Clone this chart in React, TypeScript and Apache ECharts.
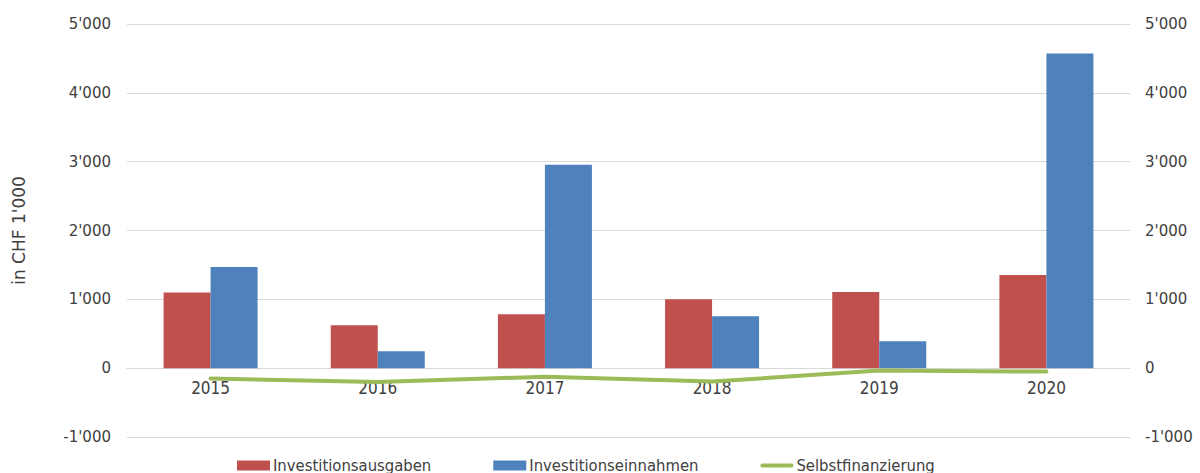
import React, { useEffect, useRef } from "react";
import * as echarts from "echarts";

const categories = ["2015", "2016", "2017", "2018", "2019", "2020"];
const ausgaben = [1100, 625, 785, 1000, 1105, 1355];
const einnahmen = [1470, 245, 2955, 755, 390, 4570];
const selbstfinanzierung = [-150, -200, -125, -195, -35, -50];
const yTicks = { min: -1000, max: 5000, interval: 1000 };

const fmt = (v: number) => {
  const s = Math.abs(v).toString().replace(/\B(?=(\d{3})+(?!\d))/g, "'");
  return (v < 0 ? "-" : "") + s;
};

export default function App() {
  const ref = useRef<HTMLDivElement>(null);
  useEffect(() => {
    if (!ref.current) return;
    const chart = echarts.init(ref.current, undefined, { renderer: "svg" });
    const yLabel = {
      color: "#404040",
      fontFamily: "DejaVu Sans",
      fontSize: 15,
      formatter: fmt,
    };
    // grid height 413px spans 6000 units; zero sits 1000 units above the bottom
    const zeroOffset = -Math.round(413 / 6);
    chart.setOption({
      animation: false,
      backgroundColor: "#ffffff",
      grid: { left: 127, right: 70, top: 24, bottom: 36 },
      legend: {
        left: 232,
        top: 452,
        itemWidth: 33,
        itemHeight: 10,
        itemGap: 62,
        textStyle: {
          color: "#404040",
          fontFamily: "DejaVu Sans Condensed",
          fontSize: 16.5,
          lineHeight: 17,
          padding: [0, 0, 0, -2],
        },
        data: [
          { name: "Investitionsausgaben", icon: "rect" },
          { name: "Investitionseinnahmen", icon: "rect" },
          { name: "Selbstfinanzierung", icon: "path://M2,0 L31,0 A2,2 0 0 1 31,4 L2,4 A2,2 0 0 1 2,0 Z" },
        ],
      },
      xAxis: {
        type: "category",
        data: categories,
        position: "bottom",
        offset: zeroOffset,
        axisLine: { onZero: false, lineStyle: { color: "#d9d9d9", width: 1 } },
        axisTick: { show: false },
        axisLabel: {
          color: "#404040",
          fontFamily: "DejaVu Sans Condensed",
          fontSize: 17,
          margin: 11,
        },
      },
      yAxis: [
        {
          type: "value",
          ...yTicks,
          name: "in CHF 1'000",
          nameLocation: "middle",
          nameGap: 100,
          nameRotate: 90,
          nameTextStyle: { color: "#404040", fontFamily: "DejaVu Sans", fontSize: 17 },
          axisLabel: { ...yLabel, margin: 16 },
          splitLine: { lineStyle: { color: "#d9d9d9" } },
          axisLine: { show: false },
          axisTick: { show: false },
        },
        {
          type: "value",
          ...yTicks,
          position: "right",
          axisLabel: { ...yLabel, margin: 15 },
          splitLine: { show: false },
          axisLine: { show: false },
          axisTick: { show: false },
        },
      ],
      series: [
        {
          name: "Investitionsausgaben",
          type: "bar",
          data: ausgaben,
          barWidth: 47,
          barGap: "0%",
          itemStyle: { color: "#C0504D" },
        },
        {
          name: "Investitionseinnahmen",
          type: "bar",
          data: einnahmen,
          barWidth: 47,
          barGap: "0%",
          itemStyle: { color: "#4F81BD" },
        },
        {
          name: "Selbstfinanzierung",
          type: "line",
          data: selbstfinanzierung,
          symbol: "none",
          lineStyle: { color: "#9BBB59", width: 4, cap: "round" },
          itemStyle: { color: "#9BBB59" },
          z: 5,
        },
      ],
    });
    return () => chart.dispose();
  }, []);
  return <div ref={ref} style={{ width: 1200, height: 473, position: "absolute", left: 0, top: 0 }} />;
}
